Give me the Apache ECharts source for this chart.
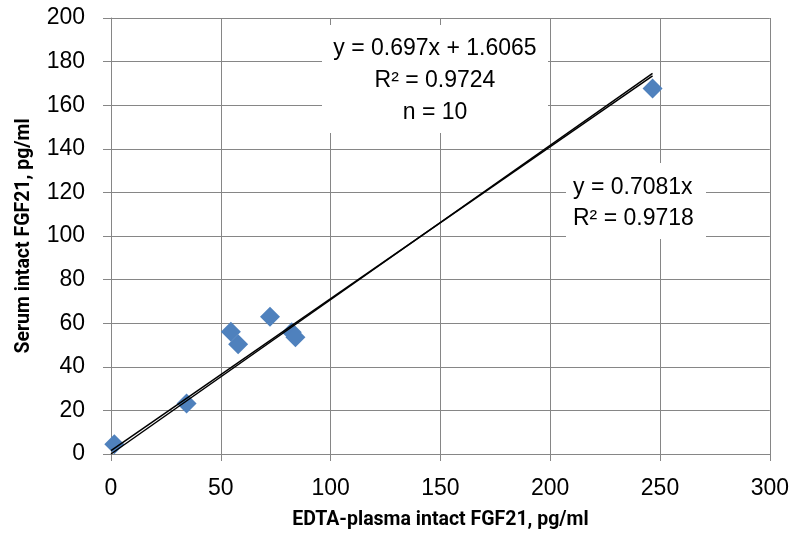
<!DOCTYPE html>
<html>
<head>
<meta charset="utf-8">
<script src="https://cdn.jsdelivr.net/npm/echarts@6/dist/echarts.min.js"></script>
<style>
  html, body { margin: 0; padding: 0; background: #fff; }
  #main { width: 792px; height: 545px; }
</style>
</head>
<body>
<div id="main"></div>
<script>
// 数据点 (EDTA-plasma vs serum)
var plasmaX = [1.5, 34.4, 54.6, 57.9, 72.4, 82.3, 84.0, 246.6];
var serumY = [4.5, 23.2, 56.1, 50.3, 63.0, 55.8, 53.5, 167.7];
// 趋势线端点
var fitX = [0, 246.6];
var fitLinY = [1.6, 173.5];    // y = 0.697x + 1.6065
var fitOriginY = [0, 174.6];   // y = 0.7081x
var xTicks = [0, 50, 100, 150, 200, 250, 300];
var yTicks = [0, 20, 40, 60, 80, 100, 120, 140, 160, 180, 200];

var gridColor = '#868686';
var font = '"Liberation Sans", Arial, sans-serif';
var titleFont = 'Roboto, "Liberation Sans", sans-serif';

var myChart = echarts.init(document.getElementById('main'));
myChart.setOption({
  animation: false,
  grid: { left: 111, right: 22, top: 18, bottom: 91 },
  xAxis: {
    type: 'value',
    min: xTicks[0],
    max: xTicks[xTicks.length - 1],
    interval: 50,
    name: 'EDTA-plasma intact FGF21, pg/ml',
    nameLocation: 'middle',
    nameGap: 56,
    nameTextStyle: { fontFamily: titleFont, fontWeight: 'bold', fontSize: 19.5, color: '#000' },
    axisLine: { lineStyle: { color: gridColor, width: 1 } },
    axisTick: { show: true, length: 7, lineStyle: { color: gridColor } },
    axisLabel: { fontFamily: font, fontSize: 23, color: '#000', margin: 23 },
    splitLine: { lineStyle: { color: gridColor, width: 1 } }
  },
  yAxis: {
    type: 'value',
    min: yTicks[0],
    max: yTicks[yTicks.length - 1],
    interval: 20,
    name: 'Serum intact FGF21, pg/ml',
    nameLocation: 'middle',
    nameGap: 77,
    nameTextStyle: { fontFamily: titleFont, fontWeight: 'bold', fontSize: 19.5, color: '#000' },
    axisLine: { show: true, lineStyle: { color: gridColor, width: 1 } },
    axisTick: { show: true, length: 8, lineStyle: { color: gridColor } },
    axisLabel: { fontFamily: font, fontSize: 23, color: '#000', margin: 26 },
    splitLine: { lineStyle: { color: gridColor, width: 1 } }
  },
  series: [
    {
      type: 'scatter',
      symbol: 'diamond',
      symbolSize: 20,
      itemStyle: { color: '#4F81BD', opacity: 1 },
      data: plasmaX.map(function (x, i) { return [x, serumY[i]] }),
      z: 2
    },
    {
      type: 'line',
      showSymbol: false,
      symbol: 'none',
      lineStyle: { color: '#000', width: 1.5 },
      data: fitX.map(function (x, i) { return [x, fitLinY[i]] }),
      z: 3
    },
    {
      type: 'line',
      showSymbol: false,
      symbol: 'none',
      lineStyle: { color: '#000', width: 1.5 },
      data: fitX.map(function (x, i) { return [x, fitOriginY[i]] }),
      z: 3
    }
  ],
  graphic: [
    {
      type: 'rect',
      shape: { x: 322, y: 25, width: 226, height: 108 },
      style: { fill: '#fff' },
      z: 10
    },
    {
      type: 'text',
      x: 435, y: 33,
      style: {
        text: 'y = 0.697x + 1.6065\nR² = 0.9724\nn = 10',
        fontFamily: font, fontSize: 23, lineHeight: 32,
        fill: '#000', align: 'center', verticalAlign: 'top'
      },
      z: 11
    },
    {
      type: 'rect',
      shape: { x: 566, y: 163, width: 140, height: 76 },
      style: { fill: '#fff' },
      z: 10
    },
    {
      type: 'text',
      x: 573, y: 172,
      style: {
        text: 'y = 0.7081x\nR² = 0.9718',
        fontFamily: font, fontSize: 23, lineHeight: 31,
        fill: '#000', align: 'left', verticalAlign: 'top'
      },
      z: 11
    }
  ]
});
</script>
</body>
</html>
